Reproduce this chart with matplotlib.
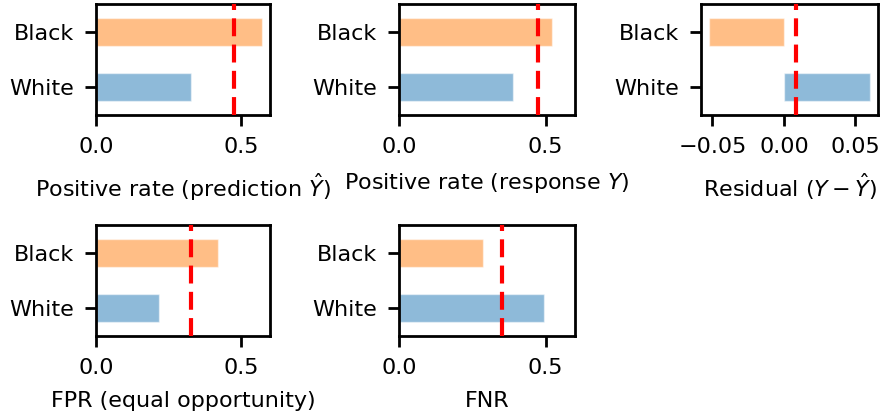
import matplotlib
matplotlib.use("Agg")
import matplotlib.pyplot as plt

groups = ["White", "Black"]
pos_rate_pred = [0.328, 0.574]
pos_rate_resp = [0.389, 0.523]
residual = [0.0601, -0.0523]
fpr = [0.217, 0.419]
fnr = [0.494, 0.285]

ref_pred = 0.475
ref_resp = 0.475
ref_resid = 0.0083
ref_fpr = 0.326
ref_fnr = 0.351

xlabels = [
    r"Positive rate (prediction $\hat{Y}$)",
    r"Positive rate (response $Y$)",
    r"Residual ($Y - \hat{Y}$)",
    "FPR (equal opportunity)",
    "FNR",
]

plt.rcParams.update({
    "font.family": "DejaVu Sans",
    "font.size": 16,
    "axes.linewidth": 2.0,
    "xtick.major.width": 2.0,
    "ytick.major.width": 2.0,
    "xtick.major.size": 8,
    "ytick.major.size": 8,
    "xtick.major.pad": 8,
    "ytick.major.pad": 8,
    "mathtext.fontset": "dejavusans",
})

W, H = 881, 419
fig = plt.figure(figsize=(W / 100, H / 100), dpi=100)

boxes = [
    (96, 4, 270, 115),
    (399, 4, 575, 115),
    (701, 4, 878, 115),
    (96, 225, 270, 336),
    (399, 225, 575, 336),
]

datasets = [pos_rate_pred, pos_rate_resp, residual, fpr, fnr]
refs = [ref_pred, ref_resp, ref_resid, ref_fpr, ref_fnr]
colors = ["#1f77b4", "#ff7f0e"]

for i, (box, vals, ref, lab) in enumerate(zip(boxes, datasets, refs, xlabels)):
    x0, y0, x1, y1 = box
    ax = fig.add_axes([x0 / W, 1 - y1 / H, (x1 - x0) / W, (y1 - y0) / H])
    ax.barh(range(len(groups)), vals, height=0.5, color=colors, alpha=0.5,
            edgecolor="white", linewidth=1)
    ax.axvline(ref, color="red", linestyle=(0, (4.3, 2.0)), linewidth=3.0, zorder=5)
    ax.set_yticks(range(len(groups)))
    ax.set_yticklabels(groups)
    ax.set_ylim(-0.5, 1.5)
    if i == 2:
        ax.set_xticks([-0.05, 0.0, 0.05])
        ax.set_xticklabels(["\u22120.05", "0.00", "0.05"])
    else:
        ax.set_xlim(0, 0.6)
        ax.set_xticks([0.0, 0.5])
        ax.set_xticklabels(["0.0", "0.5"])
    ax.set_xlabel(lab, labelpad=10 if i < 3 else 9)

fig.savefig("out.png", dpi=100)
